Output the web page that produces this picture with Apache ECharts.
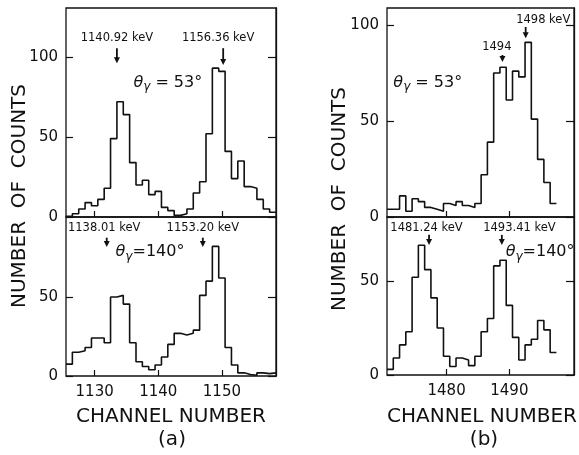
<!DOCTYPE html>
<html><head><meta charset="utf-8">
<script src="https://cdn.jsdelivr.net/npm/echarts@6/dist/echarts.min.js"></script>
<style>html,body{margin:0;padding:0;background:#fff}#c{width:579px;height:455px}</style>
</head><body><div id="c"></div>
<script>
// ---- data ----
const channelsA = [1126,1127,1128,1129,1130,1131,1132,1133,1134,1135,1136,1137,1138,1139,1140,1141,1142,1143,1144,1145,1146,1147,1148,1149,1150,1151,1152,1153,1154,1155,1156,1157,1158];
const countsA53 = [0.5,2,5,9,7,11,18,49,72,64,34,20,23,14,16,6,4,1,2,5,15,22,52,93,91,41,24,35,19,18,11,5,3];
const countsA140 = [7.5,15,16,18,24,24,21,50,51,45.5,21,9,6,4,7,12,20,27,26,27,29,51,60,82,62,18,7,2,1,0.5,2,1.5,2];
const channelsB = [1471,1472,1473,1474,1475,1476,1477,1478,1479,1480,1481,1482,1483,1484,1485,1486,1487,1488,1489,1490,1491,1492,1493,1494,1495,1496,1497];
const countsB53 = [4,4,11,3,9.5,8,5,4,3,7,6,8,6,5,7,22,39,75,78,61,76,73,91,51,30,18,7];
const countsB140 = [3,9,16,23,52,69,56,41,25,10,4.5,9,8,5,10,23,30,58,61,37,20,8,16,19,29,24,12];
const ticksA = [1130,1140,1150];
const ticksB = [1480,1490];
const yTicksTop = [0,50,100];
const yTicksBottom = [0,50];
// annotations: [gridIndex, text, labelChannel, labelValue, arrowChannel, arrowTopValue, arrowTipValue]
const peakNotes = [
  [0,'1140.92 keV',1133.5,112,1133.5,105.5,96],
  [0,'1156.36 keV',1149.4,112,1150.2,105.5,95],
  [1,'1138.01 keV',1131.5,93.7,1131.9,87.5,81.6],
  [1,'1153.20 keV',1147.0,93.7,1147.0,87.5,81.6],
  [2,'1494',1488.0,88.5,1488.9,84.4,80.7],
  [2,'1498 keV',1495.4,102.6,1492.6,99,93.2],
  [3,'1481.24 keV',1476.8,78.2,1477.2,74.5,69.1],
  [3,'1493.41 keV',1491.6,78.2,1488.8,74.5,69.1]
];
// angle labels: [gridIndex, text after theta-gamma, channel, value]
const angleNotes = [[0,' = 53°',1141.5,84],[1,'=140°',1138.7,78.5],[2,' = 53°',1477.0,70],[3,'=140°',1494.9,65.4]];

const FONT = 'DejaVu Sans';
const INK = '#111';
const chart = echarts.init(document.getElementById('c'), null, {renderer:'canvas'});

function hist(ch, v){
  const d = ch.map((c,i)=>[c-0.5, v[i]]);
  d.push([ch[ch.length-1]+0.5, v[v.length-1]]);
  return d;
}

const grids = [
  {left:66, top:8, width:210, height:209},
  {left:66, top:217, width:210, height:159},
  {left:387, top:8, width:187, height:209},
  {left:387, top:217, width:187, height:158}
].map(g=>Object.assign(g,{show:true,borderColor:INK,borderWidth:1.3,backgroundColor:'transparent',containLabel:false}));

const xRanges = [[1125.5,1158.5],[1125.5,1158.5],[1470.5,1500.3],[1470.5,1500.3]];
const xTicks = [ticksA,ticksA,ticksB,ticksB];
const yMax = [130.6,100.6,108.9,84.0];
const yT = [yTicksTop,yTicksBottom,yTicksTop,yTicksBottom];

const xAxis = xRanges.map((r,i)=>({
  type:'value', gridIndex:i, min:r[0], max:r[1],
  axisLine:{show:false}, splitLine:{show:false},
  axisTick:{show:true, inside:true, length:6, customValues:xTicks[i], lineStyle:{color:INK,width:1.2}},
  axisLabel:{show:(i===1||i===3), customValues:xTicks[i], formatter:v=>String(v), margin:9, fontSize:15, fontFamily:FONT, color:INK}
}));
const yAxis = [];
for (let i=0;i<4;i++){
  yAxis.push({type:'value', gridIndex:i, min:0, max:yMax[i], position:'left',
    axisLine:{show:false}, splitLine:{show:false},
    axisTick:{show:true, inside:true, length:7, customValues:yT[i], lineStyle:{color:INK,width:1.2}},
    axisLabel:{show:true, customValues:yT[i], formatter:v=>String(v), margin:8, fontSize:15, fontFamily:FONT, color:INK}});
}
for (let i=0;i<4;i++){
  yAxis.push({type:'value', gridIndex:i, min:0, max:yMax[i], position:'right',
    axisLine:{show:true, lineStyle:{color:INK,width:1.3}}, splitLine:{show:false},
    axisTick:{show:true, inside:true, length:8, customValues:yT[i], lineStyle:{color:INK,width:1.2}},
    axisLabel:{show:false}});
}
const seriesData = [hist(channelsA,countsA53),hist(channelsA,countsA140),hist(channelsB,countsB53),hist(channelsB,countsB140)];
const series = seriesData.map((d,i)=>({
  type:'line', step:'end', data:d, xAxisIndex:i, yAxisIndex:i, symbol:'none', silent:true,
  lineStyle:{color:INK,width:1.6}, animation:false
}));

chart.setOption({animation:false, backgroundColor:'#fff', grid:grids, xAxis, yAxis, series});

const px = (g,x,y)=>chart.convertToPixel({xAxisIndex:g,yAxisIndex:g},[x,y]);
const graphic = [];
peakNotes.forEach(n=>{
  const [g,t,lc,lv,ac,at,ab] = n;
  const lp = px(g,lc,lv), a1 = px(g,ac,at), a2 = px(g,ac,ab);
  graphic.push({type:'text', x:lp[0], y:lp[1], style:{text:t, fontSize:11.5, fontFamily:FONT, fill:INK, align:'center', verticalAlign:'middle'}});
  graphic.push({type:'line', shape:{x1:a1[0],y1:a1[1],x2:a2[0],y2:a2[1]-4}, style:{stroke:INK,lineWidth:1.8}});
  graphic.push({type:'polygon', shape:{points:[[a2[0]-3,a2[1]-6],[a2[0]+3,a2[1]-6],[a2[0],a2[1]]]}, style:{fill:INK}});
});
angleNotes.forEach(n=>{
  const [g,rest,c,v] = n;
  const p = px(g,c,v);
  graphic.push({type:'text', x:p[0], y:p[1], style:{
    text:'{t|θ}{s|γ}{n|' + rest + '}', align:'center', verticalAlign:'middle',
    rich:{t:{fontSize:16,fontStyle:'italic',fontFamily:FONT,fill:INK},
          s:{fontSize:12,fontStyle:'italic',fontFamily:FONT,fill:INK,padding:[9,0,0,0]},
          n:{fontSize:16,fontFamily:FONT,fill:INK}}}});
});
// axis titles
[[20,196],[340,199]].forEach(p=>{
  graphic.push({type:'text', x:p[0], y:p[1], rotation:Math.PI/2, style:{text:'NUMBER  OF  COUNTS', fontSize:20, fontFamily:FONT, fill:INK, align:'center', verticalAlign:'middle'}});
});
[[171,417,'CHANNEL NUMBER'],[482,417,'CHANNEL NUMBER'],[172,440,'(a)'],[484,440,'(b)']].forEach(p=>{
  graphic.push({type:'text', x:p[0], y:p[1], style:{text:p[2], fontSize:20, fontFamily:FONT, fill:INK, align:'center', verticalAlign:'middle'}});
});
chart.setOption({graphic});
</script></body></html>
